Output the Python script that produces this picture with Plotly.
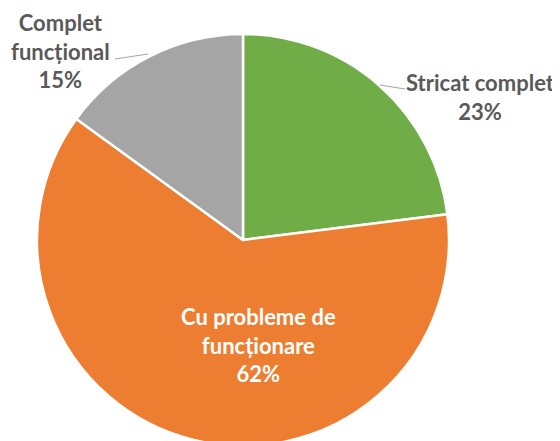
import plotly.graph_objects as go

W, H = 560, 441
OFF = 8  # page body margin offset

categories = ["Stricat complet", "Cu probleme de funcționare", "Complet funcțional"]
values = [23, 62, 15]
colors = ["#70AD47", "#ED7D31", "#A5A5A5"]
label_lines = [["Stricat complet"], ["Cu probleme de", "funcționare"], ["Complet", "funcțional"]]
pct_labels = ["23%", "62%", "15%"]

# pie placement (viewport pixels)
cx, cy, r = 243, 240, 206
dom_x = [(cx - r - OFF) / W, (cx + r - OFF) / W]
dom_y = [1 - (cy + r - OFF) / H, 1 - (cy - r - OFF) / H]

fig = go.Figure(go.Pie(
    labels=categories,
    values=values,
    sort=False,
    direction="clockwise",
    rotation=0,
    marker=dict(colors=colors, line=dict(color="white", width=2.5)),
    textinfo="none",
    hoverinfo="label+percent",
    domain=dict(x=dom_x, y=dom_y),
    showlegend=False,
))

def px(x, y):
    return (x - OFF) / W, 1 - (y - OFF) / H

label_pos = [(480, 97), (258, 345), (60, 51)]
label_col = ["#595959", "white", "#595959"]
for i in range(3):
    txt = "<br>".join(label_lines[i] + [pct_labels[i]])
    x, y = px(*label_pos[i])
    fig.add_annotation(x=x, y=y, xref="paper", yref="paper", text=txt,
                       showarrow=False, align="center", xanchor="center", yanchor="middle",
                       font=dict(family="Lato", size=22, color=label_col[i], weight="bold"))

# leader lines
for (x0, y0, x1, y1) in [(380, 85, 405, 89), (115, 59, 148, 54)]:
    a, b = px(x0, y0)
    c, d = px(x1, y1)
    fig.add_shape(type="line", xref="paper", yref="paper", x0=a, y0=b, x1=c, y1=d,
                  line=dict(color="#A6A6A6", width=1.2))

fig.update_layout(width=W, height=H, margin=dict(l=0, r=0, t=0, b=0),
                  paper_bgcolor="white", plot_bgcolor="white")

fig.write_html("out.html")
